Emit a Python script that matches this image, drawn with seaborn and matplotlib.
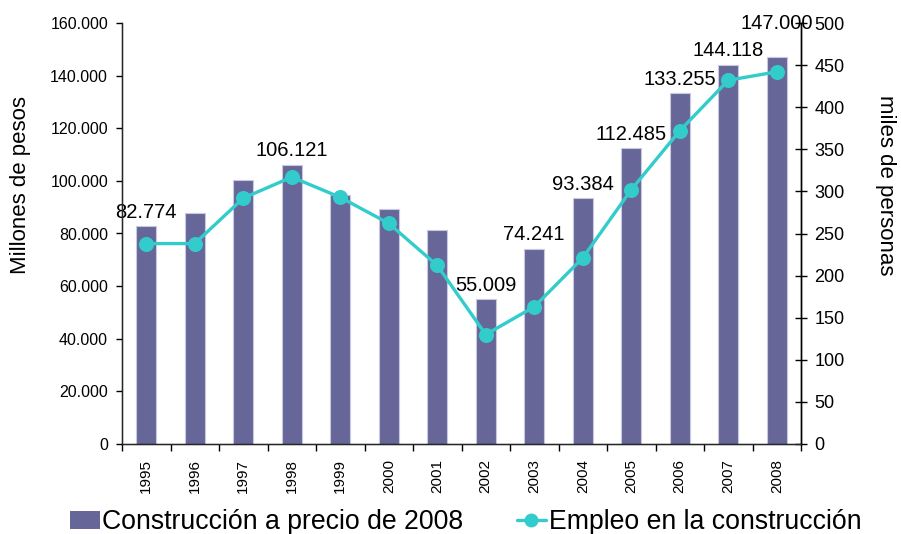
import matplotlib
matplotlib.use("Agg")
import matplotlib.pyplot as plt
import seaborn as sns
import pandas as pd
from matplotlib.ticker import FuncFormatter, MultipleLocator
from matplotlib.lines import Line2D
from matplotlib.patches import Patch

years = ["1995", "1996", "1997", "1998", "1999", "2000", "2001",
         "2002", "2003", "2004", "2005", "2006", "2007", "2008"]
construccion = [82774, 87800, 100300, 106121, 94600, 89300, 81300,
                55009, 74241, 93384, 112485, 133255, 144118, 147000]
empleo = [238, 238, 292, 317, 293, 262, 212, 130, 163, 221, 302, 372, 432, 442]
labeled_years = ["1995", "1998", "2002", "2003", "2004", "2005", "2006", "2007", "2008"]

bar_color = "#666699"
line_color = "#33CCCC"

sns.set_style("white")
plt.rcParams["font.family"] = ["Liberation Sans", "DejaVu Sans"]
plt.rcParams["text.color"] = "black"
plt.rcParams["axes.labelcolor"] = "black"
plt.rcParams["xtick.color"] = "black"
plt.rcParams["ytick.color"] = "black"

df = pd.DataFrame({"year": years, "construccion": construccion, "empleo": empleo})

fig = plt.figure(figsize=(9.01, 5.34), dpi=100)
ax = fig.add_axes([122 / 901, 1 - 444 / 534, (801 - 122) / 901, (444 - 23) / 534])

sns.barplot(data=df, x="year", y="construccion", ax=ax, color=bar_color,
            saturation=1, width=0.42, edgecolor="#C8C8E0", linewidth=0.8)
ax.set_ylim(0, 160000)
ax.set_xlim(-0.5, len(years) - 0.5)
ax.yaxis.set_major_locator(MultipleLocator(20000))
ax.yaxis.set_major_formatter(FuncFormatter(lambda v, p: f"{int(v):,}".replace(",", ".")))
ax.set_xlabel("")
ax.set_ylabel("Millones de pesos", fontsize=16, labelpad=14)
ax.yaxis.label.set_y(0.615)
ax.tick_params(axis="y", direction="out", length=4, width=1, labelsize=11.5, left=True, pad=6)
ax.set_xticks(range(len(years)))
ax.set_xticklabels(years, rotation=90, fontsize=11)
ax.tick_params(axis="x", length=0, pad=11)
ax.set_xticks([i - 0.5 for i in range(len(years) + 1)], minor=True)
ax.tick_params(axis="x", which="minor", direction="out", length=5, width=1, bottom=True)
ax.spines["top"].set_visible(False)
for s in ["left", "bottom", "right"]:
    ax.spines[s].set_color("black")
    ax.spines[s].set_linewidth(1)

for i, (y, v) in enumerate(zip(years, construccion)):
    if y in labeled_years:
        off = 34 if y == "2008" else 14
        ax.annotate(f"{v:,}".replace(",", "."), (i, v), xytext=(0, off),
                    textcoords="offset pixels",
                    ha="center", va="center", fontsize=14.5, color="black")

ax2 = ax.twinx()
sns.pointplot(data=df, x="year", y="empleo", ax=ax2, color=line_color,
              markers="o", markersize=9, linewidth=2.4)
ax2.set_ylim(0, 500)
ax2.set_xlim(-0.5, len(years) - 0.5)
ax2.yaxis.set_major_locator(MultipleLocator(50))
ax2.set_ylabel("miles de personas", fontsize=16, rotation=270, labelpad=37)
ax2.yaxis.label.set_y(0.615)
ax2.set_xlabel("")
ax2.tick_params(axis="y", direction="inout", length=9, width=1, labelsize=13, right=True, pad=5)
ax2.spines["top"].set_visible(False)
ax2.spines["right"].set_color("black")
ax2.spines["right"].set_linewidth(1)

handles = [Patch(facecolor=bar_color, edgecolor="none"),
           Line2D([0], [0], color=line_color, marker="o", markersize=9, linewidth=2.4)]
fig.legend(handles, ["Construcción a precio de 2008", "Empleo en la construcción"],
           loc="center", bbox_to_anchor=(0.517, 0.022), ncol=2, frameon=False,
           fontsize=19.2, handlelength=1.1, handletextpad=0.1, columnspacing=2.0,
           borderpad=0, borderaxespad=0)

fig.savefig("out.png", dpi=100)
